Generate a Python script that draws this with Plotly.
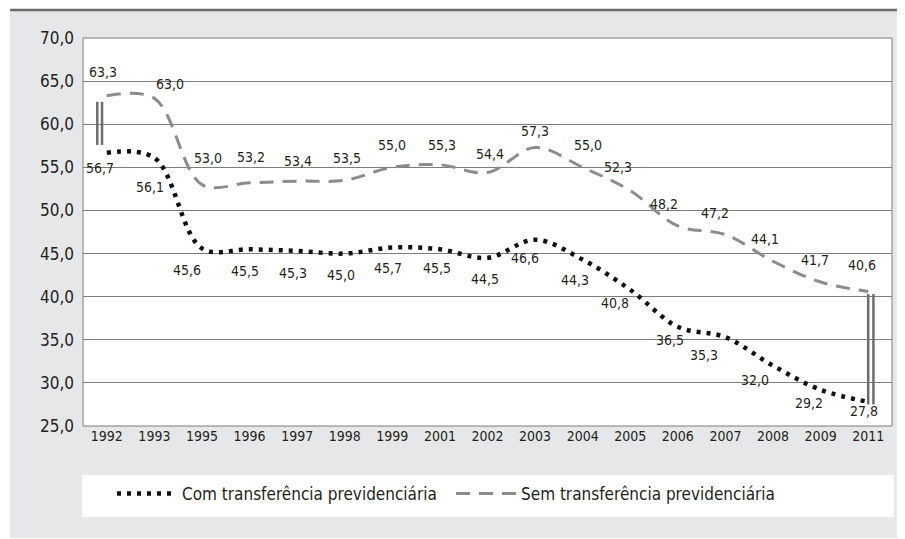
import plotly.graph_objects as go

years = ["1992", "1993", "1995", "1996", "1997", "1998", "1999", "2001", "2002",
         "2003", "2004", "2005", "2006", "2007", "2008", "2009", "2011"]
com_transf = [56.7, 56.1, 45.6, 45.5, 45.3, 45.0, 45.7, 45.5, 44.5,
              46.6, 44.3, 40.8, 36.5, 35.3, 32.0, 29.2, 27.8]
sem_transf = [63.3, 63.0, 53.0, 53.2, 53.4, 53.5, 55.0, 55.3, 54.4,
              57.3, 55.0, 52.3, 48.2, 47.2, 44.1, 41.7, 40.6]
y_ticks = [25, 30, 35, 40, 45, 50, 55, 60, 65, 70]
y_tick_text = ["25,0", "30,0", "35,0", "40,0", "45,0", "50,0", "55,0", "60,0", "65,0", "70,0"]
series_names = ["Com transferência previdenciária", "Sem transferência previdenciária"]

# label offsets (pixels) – styling only
sem_dx = [-4, 16, 6, 1, 1, 2, 0, 2, 2, 0, 5, -12, -14, -10, -8, -6, -6]
sem_dy = [24, 14, 27, 26, 20, 22, 22, 20, 19, 17, 22, 24, 22, 22, 22, 22, 26]
com_dx = [-7, -4, -15, -5, -4, -4, -4, -3, -3, -10, -8, -15, -8, -21, -18, -12, -4]
com_dy = [-15, -29, -22, -22, -22, -21, -20, -19, -21, -18, -20, -13, -13, -18, -14, -13, -9]

FONT = "Liberation Sans Narrow, DejaVu Sans Condensed, Arial Narrow, sans-serif"
TXT = "#231f20"

def fmt(v):
    return f"{v:.1f}".replace(".", ",")

xi = list(range(len(years)))

fig = go.Figure()
fig.add_trace(go.Scatter(
    x=xi, y=com_transf, mode="lines", name=series_names[0], legend="legend",
    line=dict(color="#111111", width=4.5, dash="4px,6px", shape="spline", smoothing=1.0),
))
fig.add_trace(go.Scatter(
    x=xi, y=sem_transf, mode="lines", name=series_names[1], legend="legend2",
    line=dict(color="#8c8c8c", width=3, dash="14px,9px", shape="spline", smoothing=1.0),
))

annotations = []
for i, v in enumerate(sem_transf):
    annotations.append(dict(x=i, y=v, text=fmt(v), showarrow=False, xshift=sem_dx[i], yshift=sem_dy[i],
                            font=dict(family=FONT, size=14, color=TXT)))
for i, v in enumerate(com_transf):
    annotations.append(dict(x=i, y=v, text=fmt(v), showarrow=False, xshift=com_dx[i], yshift=com_dy[i],
                            font=dict(family=FONT, size=14, color=TXT)))

# page coords (X, Y) -> paper: plot area spans page x 83..892, y 38..426
PW, PH = 809.0, 388.0
def px(X):
    return (X - 83) / PW
def py(Y):
    return (426 - Y) / PH

last = len(years) - 1
shapes = [
    # outer gray panel
    dict(type="rect", xref="paper", yref="paper", x0=px(10), x1=px(906),
         y0=py(538), y1=py(11), fillcolor="#e6e7e8", line=dict(width=0), layer="below"),
    # top rule
    dict(type="line", xref="paper", yref="paper", x0=px(10), x1=px(906),
         y0=py(10), y1=py(10), line=dict(color="#6d6d6d", width=2.5)),
    # plot area white
    dict(type="rect", xref="paper", yref="paper", x0=0, x1=1, y0=0, y1=1,
         fillcolor="white", line=dict(color="#7d7d7d", width=1), layer="below"),
    # legend box
    dict(type="rect", xref="paper", yref="paper", x0=px(82), x1=px(894),
         y0=py(517), y1=py(475), fillcolor="white", line=dict(width=0), layer="below"),
    # axis breaks
    dict(type="line", xref="x", yref="y", x0=-0.2, x1=-0.2, y0=57.6, y1=62.6,
         line=dict(color="#6d6d6d", width=2.5)),
    dict(type="line", xref="x", yref="y", x0=-0.1, x1=-0.1, y0=57.6, y1=62.6,
         line=dict(color="#6d6d6d", width=2.5)),
    dict(type="line", xref="x", yref="y", x0=last, x1=last, y0=27.5, y1=40.3,
         line=dict(color="#6d6d6d", width=2.5)),
    dict(type="line", xref="x", yref="y", x0=last + 0.11, x1=last + 0.11, y0=27.5, y1=40.3,
         line=dict(color="#6d6d6d", width=2.5)),
]

legend_style = dict(orientation="h", xanchor="left", y=py(494), yanchor="middle",
                    bgcolor="rgba(0,0,0,0)", font=dict(family=FONT, size=17, color=TXT),
                    itemwidth=60, tracegroupgap=0)

fig.update_layout(
    width=897, height=531,
    margin=dict(l=75, r=13, t=30, b=113, autoexpand=False),
    paper_bgcolor="white", plot_bgcolor="rgba(0,0,0,0)",
    font=dict(family=FONT, color=TXT),
    showlegend=True,
    legend=dict(x=px(112), **legend_style),
    legend2=dict(x=px(451), **legend_style),
    xaxis=dict(range=[-0.5, len(years) - 0.5], tickmode="array", tickvals=xi, ticktext=years,
               showgrid=False, zeroline=False, showline=False, ticks="",
               tickfont=dict(family=FONT, size=14, color=TXT)),
    yaxis=dict(range=[25, 70], tickmode="array", tickvals=y_ticks, ticktext=y_tick_text,
               showgrid=True, gridcolor="#7d7d7d", gridwidth=1, zeroline=False, showline=False,
               ticks="", ticklabelstandoff=8, tickfont=dict(family=FONT, size=17, color=TXT)),
    annotations=annotations,
    shapes=shapes,
)

fig.write_html("out.html")
